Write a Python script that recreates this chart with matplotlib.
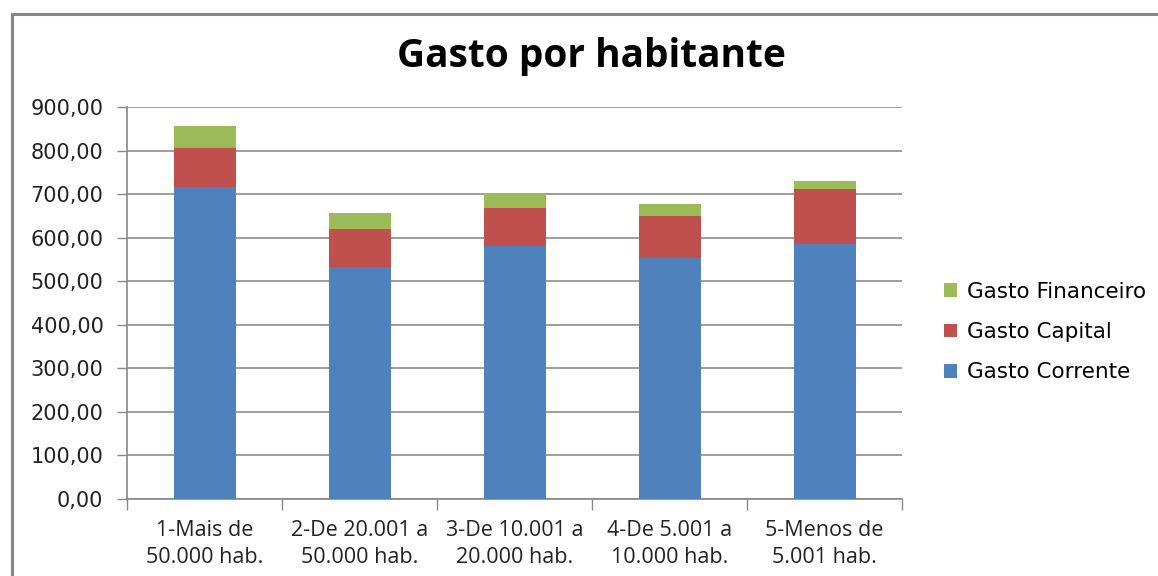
import matplotlib
matplotlib.use("Agg")
import matplotlib.pyplot as plt
import numpy as np
from matplotlib.patches import Rectangle

categories = ["1-Mais de\n50.000 hab.", "2-De 20.001 a\n50.000 hab.", "3-De 10.001 a\n20.000 hab.",
              "4-De 5.001 a\n10.000 hab.", "5-Menos de\n5.001 hab."]
gasto_corrente = [716, 533, 582, 553, 585]
gasto_capital = [91, 87, 85, 96, 126]
gasto_financeiro = [49, 37, 36, 28, 20]
yticks = [0, 100, 200, 300, 400, 500, 600, 700, 800, 900]
ytick_labels = ["0,00", "100,00", "200,00", "300,00", "400,00", "500,00", "600,00", "700,00", "800,00", "900,00"]

W, H = 1158, 576
fig = plt.figure(figsize=(W / 100, H / 100), dpi=100)
ax = fig.add_axes([127 / W, (H - 499) / H, (902 - 127) / W, (499 - 107) / H])

c_blue, c_red, c_green = "#4F81BD", "#C0504D", "#9BBB59"
x = np.arange(len(categories))
bw = 0.4
b1 = ax.bar(x, gasto_corrente, bw, color=c_blue, label="Gasto Corrente", zorder=3)
bottom2 = np.array(gasto_corrente)
b2 = ax.bar(x, gasto_capital, bw, bottom=bottom2, color=c_red, label="Gasto Capital", zorder=3)
bottom3 = bottom2 + np.array(gasto_capital)
b3 = ax.bar(x, gasto_financeiro, bw, bottom=bottom3, color=c_green, label="Gasto Financeiro", zorder=3)

ax.set_xlim(-0.5, len(categories) - 0.5)
ax.set_ylim(0, 900)
ax.set_yticks(yticks)
ax.set_yticklabels(ytick_labels, fontsize=15, family="DejaVu Sans", color="#222222")
ax.set_xticks(x)
ax.set_xticklabels(categories, fontsize=15.5, family=["Open Sans", "DejaVu Sans"], color="#222222",
                   linespacing=1.4)
ax.set_xticks(np.arange(-0.5, len(categories)), minor=True)
ax.tick_params(axis="x", which="major", length=0, pad=15)
ax.tick_params(axis="x", which="minor", length=8, color="#888888", width=1, direction="out")
ax.tick_params(axis="y", length=7, color="#888888", width=1, direction="out", pad=10)

ax.grid(axis="y", color="#8c8c8c", linewidth=1.2, zorder=0)
for s in ["top", "right"]:
    ax.spines[s].set_visible(False)
for s in ["left", "bottom"]:
    ax.spines[s].set_color("#888888")
    ax.spines[s].set_linewidth(1.2)

fig.text(591 / W, 1 - 56 / H, "Gasto por habitante", ha="center", va="center",
         fontsize=28, fontweight="bold", family=["Open Sans", "DejaVu Sans"])

handles = [b3, b2, b1]
leg = fig.legend(handles, [h.get_label() for h in handles], loc="center left",
                 bbox_to_anchor=(925 / W, 1 - 332 / H), frameon=False,
                 prop={"family": "DejaVu Sans", "size": 15.5},
                 handlelength=0.6, handleheight=0.6, handletextpad=0.45, labelspacing=0.95)

fig.patches.append(Rectangle((11.5 / W, -0.1), 1.2, 1 - 13.5 / H + 0.1, transform=fig.transFigure,
                             fill=False, edgecolor="#868686", linewidth=2.2))

fig.savefig("out.png", dpi=100)
